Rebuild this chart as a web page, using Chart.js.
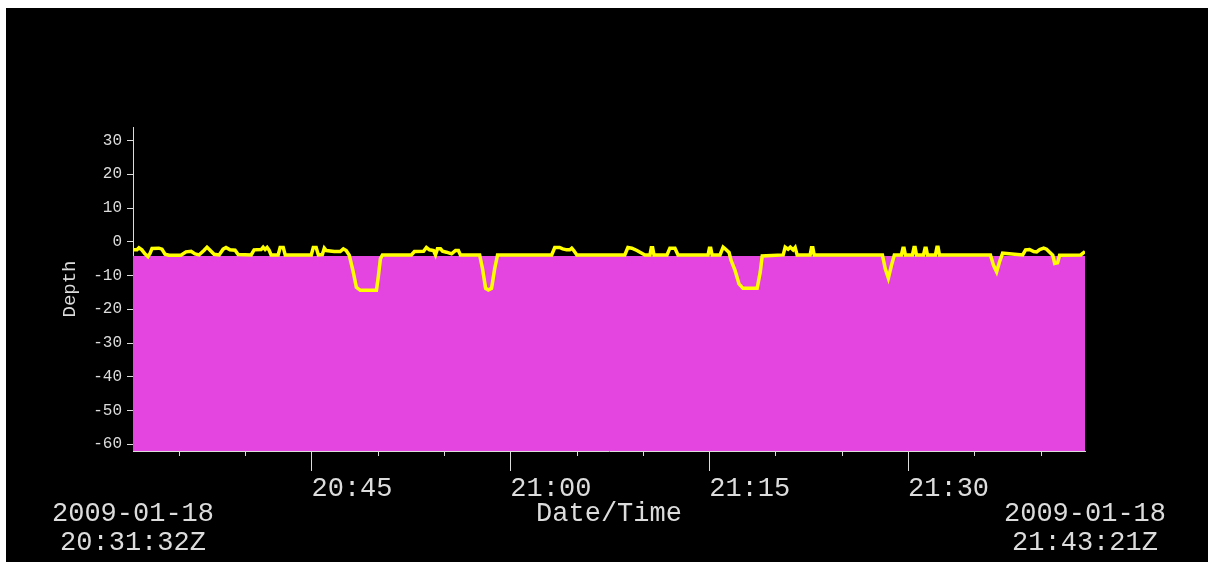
<!DOCTYPE html>
<html>
<head>
<meta charset="utf-8">
<script src="https://cdn.jsdelivr.net/npm/chart.js@4/dist/chart.umd.min.js"></script>
<style>
  html, body { margin: 0; padding: 0; background: #fff; }
  canvas { display: block; }
</style>
</head>
<body>
<canvas id="depthChart" width="1208" height="562"></canvas>
<script>
// Vehicle depth record, 2009-01-18 (UTC)
const sampleTimes = [
  '20:31:32','20:31:50','20:31:59','20:32:12','20:32:26','20:32:40','20:32:49','20:32:58','20:33:29','20:33:43',
  '20:33:57','20:34:15','20:35:09','20:35:32','20:35:55','20:36:13','20:36:31','20:36:54','20:37:07','20:37:21',
  '20:37:39','20:38:02','20:38:20','20:38:33','20:38:51','20:39:14','20:39:28','20:40:27','20:40:40','20:41:12',
  '20:41:21','20:41:30','20:41:39','20:41:48','20:41:57','20:42:29','20:42:38','20:42:52','20:43:01','20:44:59',
  '20:45:08','20:45:21','20:45:31','20:45:49','20:45:58','20:46:07','20:46:43','20:47:10','20:47:24','20:47:37',
  '20:47:51','20:48:09','20:48:23','20:48:41','20:49:54','20:50:03','20:50:12','20:50:21','20:52:32','20:52:46',
  '20:53:27','20:53:40','20:53:54','20:54:12','20:54:21','20:54:30','20:54:44','20:54:53','20:55:11','20:55:34',
  '20:55:52','20:56:05','20:56:14','20:57:41','20:57:54','20:58:08','20:58:21','20:58:35','20:58:49','20:59:02',
  '21:03:07','21:03:21','21:03:43','21:03:57','21:04:15','21:04:29','21:04:38','21:04:47','21:05:01','21:08:38',
  '21:08:52','21:09:10','21:09:33','21:09:55','21:10:09','21:10:32','21:10:38','21:10:44','21:10:50','21:11:49',
  '21:12:02','21:12:25','21:12:39','21:14:55','21:15:01','21:15:07','21:15:13','21:15:49','21:16:03','21:16:12',
  '21:16:30','21:16:39','21:16:57','21:17:15','21:17:33','21:18:37','21:18:51','21:19:00','21:20:35','21:20:44',
  '21:20:57','21:21:07','21:21:20','21:21:29','21:21:38','21:22:37','21:22:43','21:22:49','21:22:55','21:28:04',
  '21:28:17','21:28:31','21:28:45','21:28:58','21:29:30','21:29:37','21:29:42','21:29:48','21:30:20','21:30:27',
  '21:30:32','21:30:38','21:31:10','21:31:17','21:31:22','21:31:28','21:32:04','21:32:11','21:32:16','21:32:22',
  '21:36:13','21:36:27','21:36:41','21:36:54','21:37:08','21:38:39','21:38:52','21:39:10','21:39:29','21:39:42',
  '21:39:56','21:40:14','21:40:27','21:40:41','21:40:55','21:41:04','21:41:17','21:41:26','21:43:02','21:43:21'
];
const depths = [
  -2.4,-2.4,-1.8,-2.4,-3.6,-4.4,-3.5,-2.0,-1.9,-2.2,
  -3.7,-4.0,-4.0,-3.0,-2.8,-3.6,-3.9,-2.5,-1.6,-2.5,
  -3.7,-3.9,-2.2,-1.7,-2.4,-2.5,-3.8,-3.9,-2.4,-2.3,
  -1.6,-2.3,-1.7,-2.5,-3.9,-3.9,-1.7,-1.7,-3.9,-3.9,
  -1.7,-1.7,-3.9,-3.8,-1.9,-2.6,-2.9,-2.9,-2.1,-2.6,
  -4.0,-9.0,-13.5,-14.4,-14.4,-10.0,-5.0,-3.9,-3.9,-2.9,
  -2.8,-1.7,-2.4,-2.6,-3.9,-2.1,-2.1,-2.8,-3.1,-3.6,
  -2.6,-2.6,-3.9,-3.9,-8.0,-13.8,-14.3,-13.8,-8.0,-3.9,
  -3.9,-1.7,-1.7,-2.1,-2.4,-2.4,-1.9,-2.6,-3.9,-3.9,
  -1.7,-1.9,-2.6,-3.4,-3.9,-3.9,-1.8,-1.8,-3.9,-3.9,
  -1.9,-1.9,-3.9,-3.9,-1.9,-1.9,-3.9,-3.9,-1.6,-2.1,
  -3.2,-5.5,-8.5,-12.5,-13.8,-13.8,-9.0,-4.2,-3.9,-1.6,
  -2.2,-1.6,-2.4,-1.7,-3.9,-3.9,-1.8,-1.8,-3.9,-3.9,
  -8.0,-10.8,-7.0,-3.9,-3.9,-1.9,-1.9,-3.9,-3.9,-1.7,
  -1.7,-3.9,-3.9,-1.9,-1.9,-3.9,-3.9,-1.6,-1.6,-3.9,
  -3.9,-7.0,-8.9,-6.0,-3.4,-3.9,-2.4,-2.3,-2.9,-3.0,
  -2.3,-1.9,-2.2,-3.1,-4.0,-6.4,-6.2,-4.0,-3.9,-2.9
];

// Filled band below the reference level
const floorTimes = ['20:31:32', '21:43:21'];
const floorDepths = [-4.2, -4.2];

// Axis ticks
const timeTicks = ['20:35','20:40','20:45','20:50','20:55','21:00','21:05','21:10',
                   '21:15','21:20','21:25','21:30','21:35','21:40'];
const labelledTimes = ['20:45', '21:00', '21:15', '21:30'];
const depthTicks = [30, 20, 10, 0, -10, -20, -30, -40, -50, -60];
const startStamp = ['2009-01-18', '20:31:32Z'];
const endStamp = ['2009-01-18', '21:43:21Z'];

const toSeconds = (s) => {
  const p = s.split(':').map(Number);
  return p[0] * 3600 + p[1] * 60 + (p[2] || 0);
};
const fmtHM = (v) => {
  const h = Math.floor(v / 3600), m = Math.floor((v % 3600) / 60);
  return String(h).padStart(2, '0') + ':' + String(m).padStart(2, '0');
};

const tStart = toSeconds(startStamp[1].replace('Z', ''));
const tEnd = toSeconds(endStamp[1].replace('Z', ''));
const labelledSet = new Set(labelledTimes.map(toSeconds));

const TEXT = '#dcdcdc';
const MONO = "'Liberation Mono', 'DejaVu Sans Mono', monospace";

const stagePlugin = {
  id: 'stage',
  beforeDraw(chart) {
    const { ctx, width, height } = chart;
    ctx.save();
    ctx.fillStyle = '#ffffff';
    ctx.fillRect(0, 0, width, height);
    ctx.fillStyle = '#000000';
    ctx.fillRect(6, 8, width - 6, height - 8);
    ctx.restore();
  },
  afterDraw(chart) {
    const { ctx, chartArea } = chart;
    const xs = chart.scales.x;
    ctx.save();
    // short minor tick marks
    ctx.strokeStyle = TEXT;
    ctx.lineWidth = 1;
    xs.ticks.forEach((t) => {
      if (labelledSet.has(t.value)) return;
      const px = Math.round(xs.getPixelForValue(t.value)) + 0.5;
      ctx.beginPath();
      ctx.moveTo(px, chartArea.bottom);
      ctx.lineTo(px, chartArea.bottom + 5);
      ctx.stroke();
    });
    // start / end time stamps under the axis ends
    ctx.fillStyle = TEXT;
    ctx.font = '27px ' + MONO;
    ctx.textAlign = 'center';
    ctx.textBaseline = 'middle';
    const xl = xs.getPixelForValue(tStart);
    const xr = xs.getPixelForValue(tEnd);
    [startStamp, endStamp].forEach((lines, i) => {
      const cx = i === 0 ? xl : xr;
      lines.forEach((txt, k) => ctx.fillText(txt, cx, 514 + k * 29));
    });
    ctx.restore();
  }
};

new Chart(document.getElementById('depthChart'), {
  type: 'line',
  data: {
    datasets: [
      {
        label: 'Depth',
        data: sampleTimes.map((t, i) => ({ x: toSeconds(t), y: depths[i] })),
        borderColor: '#ffff00',
        borderWidth: 3.5,
        pointRadius: 0,
        tension: 0,
        fill: false,
        order: 0
      },
      {
        label: 'Floor',
        data: floorTimes.map((t, i) => ({ x: toSeconds(t), y: floorDepths[i] })),
        borderWidth: 0,
        borderColor: 'rgba(0,0,0,0)',
        backgroundColor: '#e445e1',
        pointRadius: 0,
        fill: 'start',
        order: 1
      }
    ]
  },
  options: {
    responsive: false,
    animation: false,
    events: [],
    layout: { padding: { left: 0, top: 127, right: 123, bottom: 0 } },
    plugins: { legend: { display: false }, tooltip: { enabled: false } },
    scales: {
      x: {
        type: 'linear',
        min: tStart,
        max: tEnd,
        afterBuildTicks: (scale) => { scale.ticks = timeTicks.map((s) => ({ value: toSeconds(s) })); },
        afterFit: (scale) => { scale.height = 111; },
        border: { display: true, color: TEXT, width: 1 },
        grid: {
          drawOnChartArea: false,
          drawTicks: true,
          tickLength: 20,
          tickWidth: 1,
          tickColor: (c) => (c.tick && labelledSet.has(c.tick.value) ? TEXT : 'rgba(0,0,0,0)')
        },
        ticks: {
          autoSkip: false,
          maxRotation: 0,
          align: 'start',
          padding: 2,
          color: TEXT,
          font: { family: MONO, size: 27 },
          callback: (v) => (labelledSet.has(v) ? fmtHM(v) : '')
        },
        title: {
          display: true,
          text: 'Date/Time',
          color: TEXT,
          font: { family: MONO, size: 27, lineHeight: 1 },
          padding: { top: 0, bottom: 35 }
        }
      },
      y: {
        type: 'linear',
        min: -62,
        max: 34,
        afterBuildTicks: (scale) => { scale.ticks = depthTicks.map((v) => ({ value: v })); },
        afterFit: (scale) => { scale.width = 133; },
        border: { display: true, color: TEXT, width: 1 },
        grid: {
          drawOnChartArea: false,
          drawTicks: true,
          tickLength: 6,
          tickColor: TEXT
        },
        ticks: {
          padding: 5,
          color: TEXT,
          font: { family: MONO, size: 16 },
          callback: (v) => String(v)
        },
        title: {
          display: true,
          text: 'Depth',
          color: TEXT,
          font: { family: MONO, size: 19, lineHeight: 1 },
          padding: { top: 60, bottom: 0 }
        }
      }
    }
  },
  plugins: [stagePlugin]
});
</script>
</body>
</html>
